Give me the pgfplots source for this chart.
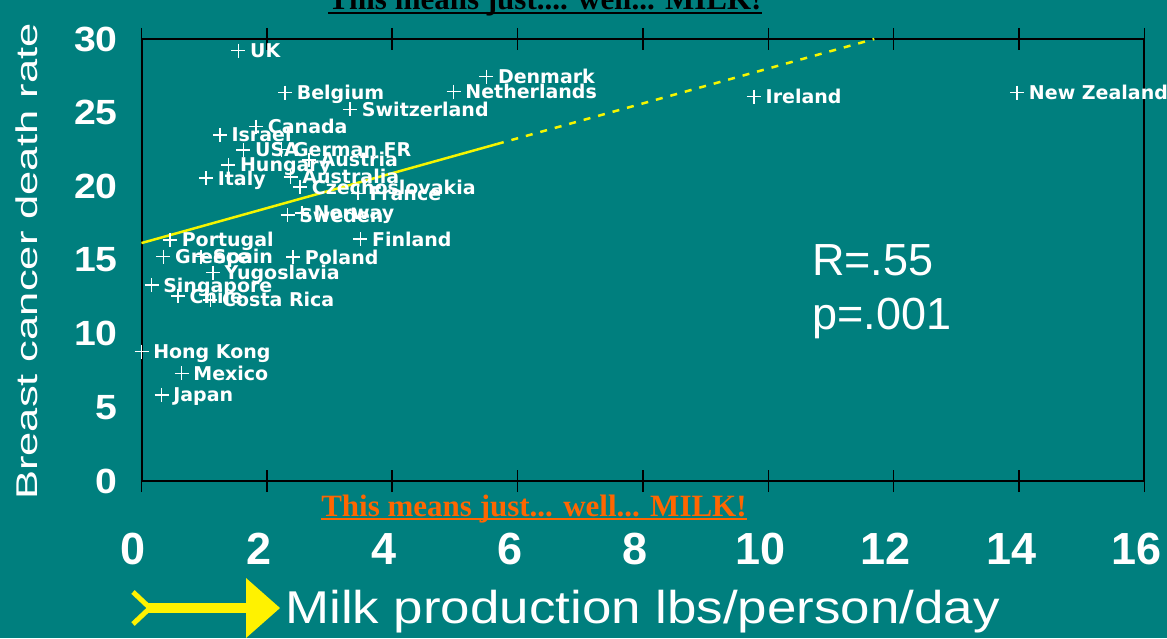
\documentclass[border=0pt]{standalone}
\usepackage{fontspec}
\usepackage{pgfplots}
\pgfplotsset{compat=1.18}
\usepackage{pgfplotstable}
\setmainfont{Liberation Sans}
\newfontfamily\lblfont{DejaVu Sans}
\newfontfamily\ytickfont[FakeStretch=1.12]{Liberation Sans}
\newfontfamily\ylabfont[FakeStretch=1.45]{Liberation Sans}
\newfontfamily\xlabfont[FakeStretch=1.15]{Liberation Sans}
\newfontfamily\serifb{Liberation Serif}
\definecolor{bg}{RGB}{0,127,126}
\definecolor{ora}{RGB}{255,102,0}
\definecolor{yel}{RGB}{245,245,0}

\pgfplotstableread[col sep=comma]{
x,y,label
1.545,29.21,UK
5.50,27.45,Denmark
4.98,26.43,Netherlands
2.29,26.36,Belgium
3.33,25.23,Switzerland
9.77,26.09,Ireland
13.97,26.36,New Zealand
1.83,24.05,Canada
1.25,23.49,Israel
1.625,22.47,USA
2.23,22.50,German FR
2.67,21.80,Austria
1.385,21.45,Hungary
1.03,20.55,Italy
2.38,20.65,Australia
2.53,19.95,Czechoslovakia
3.45,19.53,France
2.56,18.20,Norway
2.33,18.05,Sweden
0.455,16.36,Portugal
3.49,16.41,Finland
0.35,15.23,Greece
0.95,15.23,Spain
2.42,15.19,Poland
1.14,14.14,Yugoslavia
0.16,13.30,Singapore
0.58,12.55,Chile
1.10,12.29,Costa Rica
0.00,8.78,Hong Kong
0.64,7.31,Mexico
0.32,5.84,Japan
}\milk

\begin{document}
\begin{tikzpicture}[x=1pt,y=1pt]
\useasboundingbox (0,0) rectangle (1167,638);
\clip (0,0) rectangle (1167,638);
\fill[bg] (0,0) rectangle (1167,638);
\begin{axis}[
  at={(141.5pt,157pt)}, anchor=south west,
  scale only axis, width=1003pt, height=442pt,
  xmin=0, xmax=16, ymin=0, ymax=30,
  xtick={0,2,...,16}, ytick={0,5,...,30},
  axis line style={black, line width=2pt},
  tick align=center, major tick length=22pt,
  xtick style={black, line width=1.5pt},
  ytick style={draw=none},
  clip=false,
  /pgf/number format/assume math mode=true,
  xticklabel style={font=\bfseries\fontsize{45}{45}\selectfont, text=white, anchor=base, inner sep=0pt, yshift=-72pt, xshift=-8pt},
  yticklabel style={font=\ytickfont\bfseries\fontsize{35}{35}\selectfont, text=white, anchor=east, inner sep=0pt, xshift=-12.5pt},
]
\addplot[only marks, mark=+, mark size=7pt, white, line width=1.5pt,
  point meta=explicit symbolic, nodes near coords,
  every node near coord/.append style={anchor=base west, inner sep=0pt, xshift=11pt, yshift=-7pt, text=white, font=\lblfont\bfseries\fontsize{19}{19}\selectfont}]
  table[x=x, y=y, meta=label]{\milk};
\addplot[yel, line width=2.5pt] coordinates {(0,16.15) (5.67,22.87)};
\addplot[yel, line width=2.5pt, dash pattern=on 7pt off 8pt] coordinates {(5.67,22.87) (11.69,30)};
\end{axis}
% titles and annotations
\node[anchor=base, inner sep=0pt, text=black, font=\serifb\bfseries\fontsize{31}{31}\selectfont] (t1) at (545,628) {This means just.... well... MILK!};
\draw[black, line width=2pt] ([yshift=-3pt]t1.base west) -- ([yshift=-3pt]t1.base east);
\node[anchor=base, inner sep=0pt, text=ora, font=\serifb\bfseries\fontsize{31}{31}\selectfont] (t2) at (534,122) {This means just... well... MILK!};
\draw[ora, line width=2pt] ([yshift=-2.5pt]t2.base west) -- ([yshift=-2.5pt]t2.base east);
\node[anchor=base west, inner sep=0pt, text=white, font=\fontsize{45}{45}\selectfont] at (812,362) {R=.55};
\node[anchor=base west, inner sep=0pt, text=white, font=\fontsize{45}{45}\selectfont] at (812,308) {p=.001};
\node[rotate=90, anchor=base west, inner sep=0pt, text=white, font=\ylabfont\fontsize{30}{30}\selectfont] at (38,138) {Breast cancer death rate};
\node[anchor=base west, inner sep=0pt, text=white, font=\xlabfont\fontsize{46}{46}\selectfont] at (285,15) {Milk production lbs/person/day};
% yellow arrow decoration
\fill[yellow] (148,25) rectangle (248,35);
\fill[yellow] (246,60) -- (280,30) -- (246,0) -- cycle;
\draw[yellow, line width=5pt] (133,46) -- (150,30) -- (133,14);
\end{tikzpicture}
\end{document}
